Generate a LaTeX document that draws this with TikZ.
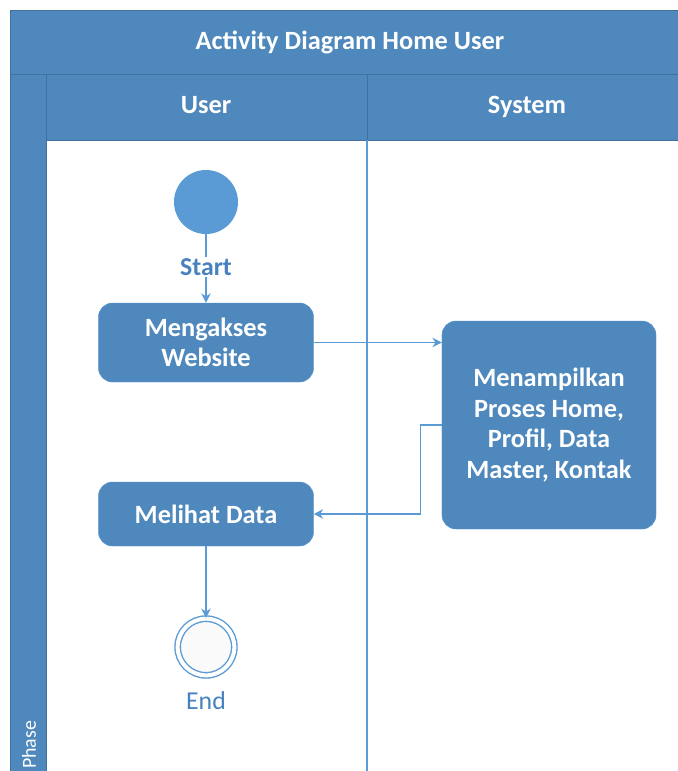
\documentclass[tikz,border=0pt]{standalone}
\usepackage{fontspec}
\setmainfont{Carlito}
\usetikzlibrary{arrows.meta}
\definecolor{hdrblue}{RGB}{79,136,188}
\definecolor{edgeblue}{RGB}{65,113,156}
\definecolor{lineblue}{RGB}{91,155,213}
\definecolor{lblblue}{RGB}{72,130,190}
\begin{document}
\begin{tikzpicture}[x=0.03cm,y=-0.03cm]
    \tikzstyle{band}=[fill=hdrblue, draw=edgeblue, line width=0.6pt]
    \tikzstyle{hdr}=[text=white, text height=15pt, text depth=4pt, font=\fontsize{22.5}{27}\selectfont\bfseries]
    \tikzstyle{act}=[rectangle, rounded corners=0.42cm, fill=hdrblue, draw=lineblue!70!hdrblue,
                     text=white, align=center, font=\fontsize{22.5}{26}\selectfont\bfseries]
    \tikzstyle{flow}=[draw=lineblue, line width=1.1pt, -{Stealth[length=8pt,width=8pt]}]
    \useasboundingbox (0,0) rectangle (678,771);
    % swimlane frame
    \fill[white] (46,140) rectangle (690,790);
    \draw[band] (10,10) rectangle (690,74);
    \draw[band] (10,74) rectangle (46,790);
    \draw[band] (46,74) rectangle (690,140);
    \draw[edgeblue, line width=0.6pt] (367,74) -- (367,140);
    \draw[lineblue, line width=1.1pt] (367,140) -- (367,790);
    \node[hdr] (title) at (350,43) {Activity Diagram Home User};
    \node[hdr] (laneuser) at (206,107) {User};
    \node[hdr] (lanesys) at (527,107) {System};
    \node[text=white, font=\fontsize{17}{20}\selectfont, rotate=90, anchor=west] (phase) at (29,773) {Phase};
    % nodes
    \node[circle, fill=lineblue, minimum size=1.92cm, inner sep=0pt] (start) at (206,202) {};
    \node[text=lblblue, font=\fontsize{22}{26}\selectfont\bfseries, inner sep=1pt] (startlbl) at (206,267) {Start};
    \node[act, minimum width=6.45cm, minimum height=2.37cm] (akses) at (206,342.5) {Mengakses\\Website};
    \node[act, minimum width=6.42cm, minimum height=6.24cm] (tampil) at (549,425) {Menampilkan\\Proses Home,\\Profil, Data\\Master, Kontak};
    \node[act, minimum width=6.45cm, minimum height=1.92cm] (lihat) at (206,514) {Melihat Data};
    \node[circle, draw=lineblue, line width=1.2pt, double=white, double distance=0.12cm,
          fill=gray!4, minimum size=1.7cm, inner sep=0pt] (end) at (206,647) {};
    \node[text=lblblue, font=\fontsize{22}{26}\selectfont, inner sep=1pt] (endlbl) at (206,701) {End};
    % connectors
    \draw[lineblue, line width=1.1pt] (start) -- (startlbl);
    \draw[flow] (startlbl) -- (akses);
    \draw[flow] (akses.east) -- (akses.east -| tampil.west);
    \draw[flow] (tampil.west) -- ++(-21,0) |- (lihat.east);
    \draw[flow] (lihat) -- (end);
\end{tikzpicture}
\end{document}
